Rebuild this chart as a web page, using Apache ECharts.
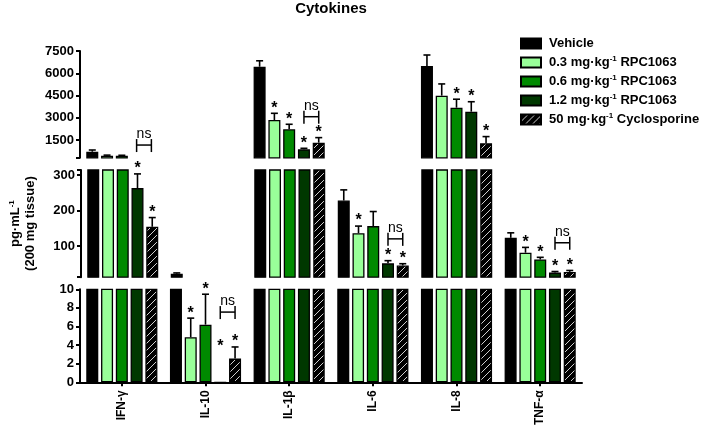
<!DOCTYPE html>
<html>
<head>
<meta charset="utf-8">
<script src="https://cdn.jsdelivr.net/npm/echarts@6/dist/echarts.min.js"></script>
<style>html,body{margin:0;padding:0;background:#fff}#c{width:709px;height:428px}</style>
</head>
<body>
<div id="c"></div>
<script>
// ---------- data ----------
const categories = ['IFN-γ', 'IL-10', 'IL-1β', 'IL-6', 'IL-8', 'TNF-α'];
const seriesNames = ['Vehicle', '0.3 mg·kg-1 RPC1063', '0.6 mg·kg-1 RPC1063', '1.2 mg·kg-1 RPC1063', '50 mg·kg-1 Cyclosporine'];
const vehicleMean = [710, 22, 6440, 228, 6490, 123];
const vehicleErr  = [115, 2, 400, 30, 740, 14];
const rpc03Mean   = [440, 4.85, 2850, 136, 4490, 81];
const rpc03Err    = [40, 2.05, 450, 20, 790, 15];
const rpc06Mean   = [440, 6.2, 2220, 156, 3680, 62];
const rpc06Err    = [30, 3.27, 340, 41, 570, 6];
const rpc12Mean   = [263, 0, 870, 51, 3410, 25];
const rpc12Err    = [40, 0, 70, 7.6, 670, 3];
const csaMean     = [154, 2.55, 1320, 45, 1280, 27];
const csaErr      = [26, 1.25, 340, 5, 450, 4];
// significance stars (1 = star) per series, per category
const vehicleStar = [0, 0, 0, 0, 0, 0];
const rpc03Star   = [0, 1, 1, 1, 0, 1];
const rpc06Star   = [0, 1, 1, 0, 1, 1];
const rpc12Star   = [1, 1, 1, 1, 1, 1];
const csaStar     = [1, 1, 1, 1, 1, 1];
const zeroBarStarLevel = 3.3;          // star height (data units) where the bar is zero
// "ns" bracket levels between 1.2 mg/kg and Cyclosporine (null = none)
const nsLevel = [1160, 7.55, 3070, 120, null, 109];
// broken y axis: three panels
const topTicks = [1500, 3000, 4500, 6000, 7500];
const midTicks = [100, 200, 300];
const lowTicks = [0, 2, 4, 6, 8, 10];
const topRange = [300, 7500];
const midRange = [12, 314];
const lowRange = [0, 10];

const means = [vehicleMean, rpc03Mean, rpc06Mean, rpc12Mean, csaMean];
const errs = [vehicleErr, rpc03Err, rpc06Err, rpc12Err, csaErr];
const starsAll = [vehicleStar, rpc03Star, rpc06Star, rpc12Star, csaStar];
const colors = ['#000000', '#99FF99', '#008A00', '#003800', null];

// ---------- style ----------
const FONT = 'Arial, "Liberation Sans", sans-serif';
const CAT_GAP = 0.15, BAR_GAP = 0.23;
function hatch() {
  const n = 7;
  const c = document.createElement('canvas'); c.width = n; c.height = n;
  const ctx = c.getContext('2d');
  ctx.fillStyle = '#000'; ctx.fillRect(0, 0, n, n);
  ctx.strokeStyle = '#d0d0d0'; ctx.lineWidth = 1;
  ctx.beginPath();
  ctx.moveTo(0, n); ctx.lineTo(n, 0);
  ctx.moveTo(-1, 1); ctx.lineTo(1, -1);
  ctx.moveTo(n - 1, n + 1); ctx.lineTo(n + 1, n - 1);
  ctx.stroke();
  return c;
}
const hatchPattern = { image: hatch(), repeat: 'repeat' };

const panels = [
  { range: topRange, ticks: topTicks, top: 51, height: 106.8 },
  { range: midRange, ticks: midTicks, top: 170, height: 107.2 },
  { range: lowRange, ticks: lowTicks, top: 289.3, height: 94 }
];
function panelOf(v) { return v >= topRange[0] ? 0 : (v >= midRange[0] ? 1 : 2); }

const grid = [], xAxis = [], yAxis = [], series = [];
panels.forEach((p, g) => {
  grid.push({ left: 80, width: 502, top: p.top, height: p.height });
  const isLow = g === 2;
  xAxis.push({
    type: 'category', gridIndex: g, data: categories, show: isLow,
    axisLine: { show: isLow, lineStyle: { color: '#000', width: 2 } },
    axisTick: { show: isLow, alignWithLabel: true, length: 4, lineStyle: { color: '#000', width: 2 } },
    axisLabel: { show: isLow, rotate: 90, margin: 8, color: '#000', fontFamily: FONT, fontWeight: 'bold', fontSize: 12 }
  });
  yAxis.push({
    type: 'value', gridIndex: g, min: p.range[0], max: p.range[1],
    axisLine: { show: true, lineStyle: { color: '#000', width: 2 } },
    axisTick: { show: true, length: 4, lineStyle: { color: '#000', width: 2 },
                customValues: [p.range[0]].concat(p.ticks).concat([p.range[1]]) },
    axisLabel: { customValues: p.ticks, formatter: function (v) { return String(v); },
                 margin: 6, color: '#000', fontFamily: FONT, fontWeight: 'bold', fontSize: 13 },
    splitLine: { show: false },
    name: g === 1 ? '{a|pg·mL}{s|-1}\n{a|(200 mg tissue)}' : '',
    nameLocation: 'middle', nameRotate: 90, nameGap: 44,
    nameTextStyle: {
      rich: {
        a: { fontFamily: FONT, fontWeight: 'bold', fontSize: 13, color: '#000', lineHeight: 14 },
        s: { fontFamily: FONT, fontWeight: 'bold', fontSize: 8, color: '#000', padding: [0, 0, 7, 0] }
      }
    }
  });
  means.forEach((m, s) => {
    series.push({
      type: 'bar', name: seriesNames[s], xAxisIndex: g, yAxisIndex: g, data: m,
      barGap: (BAR_GAP * 100) + '%', barCategoryGap: (CAT_GAP * 100) + '%',
      clip: true, silent: true,
      itemStyle: { color: s === 4 ? hatchPattern : colors[s], borderColor: '#000', borderWidth: 1.3 }
    });
  });
  // overlays: error bars + stars
  const ov = [];
  for (let s = 0; s < 5; s++) for (let c = 0; c < categories.length; c++) {
    if (panelOf(means[s][c]) === g) ov.push([c, s, means[s][c], errs[s][c], starsAll[s][c]]);
  }
  series.push({
    type: 'custom', xAxisIndex: g, yAxisIndex: g, data: ov, clip: false, silent: true, z: 5,
    encode: { x: 0, y: 2 },
    renderItem: function (params, api) {
      const c = api.value(0), s = api.value(1), m = api.value(2), e = api.value(3), st = api.value(4);
      const band = api.size([1, 0])[0];
      const bw = band * (1 - CAT_GAP) / (5 + 4 * BAR_GAP);
      const x0 = api.coord([c, m])[0] - band * (1 - CAT_GAP) / 2;
      const x = x0 + s * bw * (1 + BAR_GAP) + bw / 2;
      const yM = api.coord([c, m])[1];
      const yT = api.coord([c, m + e])[1];
      const kids = [];
      if (e > 0) {
        kids.push({ type: 'line', shape: { x1: x, y1: yM, x2: x, y2: yT }, style: { stroke: '#000', lineWidth: 1.6 } });
        kids.push({ type: 'line', shape: { x1: x - 3.5, y1: yT, x2: x + 3.5, y2: yT }, style: { stroke: '#000', lineWidth: 1.6 } });
      }
      if (st) {
        const ys = m === 0 ? api.coord([c, zeroBarStarLevel])[1] : yT;
        kids.push({ type: 'text', x: x, y: ys + 3, style: { text: '*', fill: '#000', font: 'bold 16px ' + FONT, align: 'center', verticalAlign: 'bottom' } });
      }
      return { type: 'group', children: kids };
    }
  });
  // ns brackets
  const br = [];
  nsLevel.forEach((lv, c) => { if (lv !== null && panelOf(lv) === g) br.push([c, lv]); });
  series.push({
    type: 'custom', xAxisIndex: g, yAxisIndex: g, data: br, clip: false, silent: true, z: 5,
    encode: { x: 0, y: 1 },
    renderItem: function (params, api) {
      const c = api.value(0), lv = api.value(1);
      const band = api.size([1, 0])[0];
      const bw = band * (1 - CAT_GAP) / (5 + 4 * BAR_GAP);
      const x0 = api.coord([c, lv])[0] - band * (1 - CAT_GAP) / 2;
      const xa = x0 + 3 * bw * (1 + BAR_GAP) + bw / 2;
      const xb = x0 + 4 * bw * (1 + BAR_GAP) + bw / 2;
      const y = api.coord([c, lv])[1];
      const st = { stroke: '#000', lineWidth: 1.5 };
      return { type: 'group', children: [
        { type: 'line', shape: { x1: xa, y1: y, x2: xb, y2: y }, style: st },
        { type: 'line', shape: { x1: xa, y1: y - 6, x2: xa, y2: y + 7 }, style: st },
        { type: 'line', shape: { x1: xb, y1: y - 6, x2: xb, y2: y + 7 }, style: st },
        { type: 'text', x: (xa + xb) / 2, y: y - 4, style: { text: 'ns', fill: '#000', font: '14px ' + FONT, align: 'center', verticalAlign: 'bottom' } }
      ] };
    }
  });
});

const chart = echarts.init(document.getElementById('c'), null, { renderer: 'canvas' });
chart.setOption({
  animation: false,
  backgroundColor: '#fff',
  grid, xAxis, yAxis, series,
  graphic: [{ type: 'text', x: 331, y: 9, style: { text: 'Cytokines', font: 'bold 15px ' + FONT, fill: '#000', align: 'center', verticalAlign: 'middle' } }],
  legend: {
    data: seriesNames, orient: 'vertical', left: 515, top: 32, icon: 'rect',
    itemWidth: 20, itemHeight: 10, itemGap: 5, selectedMode: false,
    formatter: function (name) { return name.indexOf('-1') >= 0 ? '{a|' + name.replace('-1', '}{s|-1}{a|') + '}' : '{a|' + name + '}'; },
    textStyle: {
      color: '#000', fontFamily: FONT, fontWeight: 'bold', fontSize: 13, padding: [0, 0, 0, 3],
      rich: {
        a: { fontFamily: FONT, fontWeight: 'bold', fontSize: 13, color: '#000', lineHeight: 14 },
        s: { fontFamily: FONT, fontWeight: 'bold', fontSize: 8, color: '#000', padding: [0, 0, 7, 0] }
      }
    }
  }
});
</script>
</body>
</html>
